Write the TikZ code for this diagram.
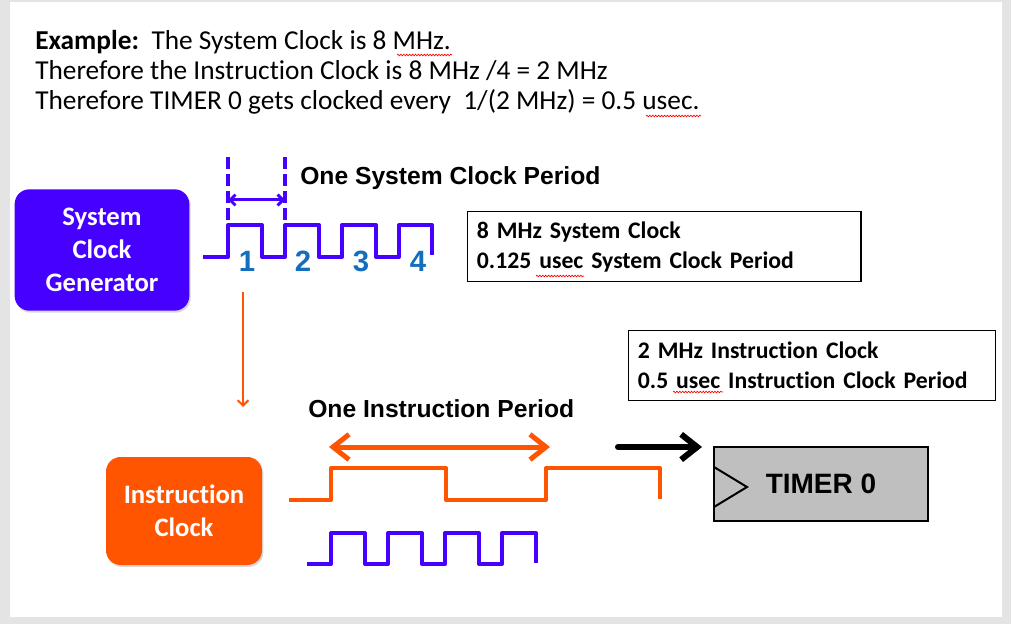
\documentclass[tikz,border=0pt]{standalone}
\usepackage{fontspec}
\setmainfont{Carlito}[Ligatures=NoCommon]
\newfontfamily\arialfont{Liberation Sans}
\usetikzlibrary{arrows.meta, positioning, shadows, decorations.pathmorphing}
\definecolor{sysviolet}{RGB}{70,0,255}
\definecolor{instorange}{RGB}{255,85,0}
\definecolor{countblue}{RGB}{20,110,190}
\definecolor{timergray}{RGB}{191,191,191}
\definecolor{framegray}{RGB}{228,228,228}
\tikzset{
  clkbox/.style   = {rounded corners=11pt, text=white, align=center,
                     font=\bfseries\fontsize{20}{24.75}\selectfont,
                     drop shadow={opacity=0.3, shadow xshift=1pt, shadow yshift=-1.5pt}},
  infobox/.style  = {draw=black, line width=0.9pt, anchor=north west, align=left,
                     font=\bfseries\fontsize{17.8}{22.5}\selectfont, inner xsep=7pt},
  headline/.style = {anchor=base west, inner sep=0pt, font=\fontsize{20.5}{24}\selectfont},
  lbl/.style      = {anchor=base west, inner sep=0pt,
                     font=\arialfont\bfseries\fontsize{18.5}{20}\selectfont},
  digit/.style    = {inner sep=0pt, text=countblue,
                     font=\arialfont\bfseries\fontsize{22}{24}\selectfont},
  wave/.style     = {line width=3pt, line join=round},
  bigarrow/.style = {line width=3.75pt, line cap=round,
                     arrows={-Straight Barb[length=12pt, width=19pt]}},
  squiggle/.style = {red, line width=0.5pt, decorate,
                     decoration={snake, segment length=2.2pt, amplitude=0.6pt}},
}
\begin{document}
\begin{tikzpicture}[x=0.75pt, y=-0.75pt]
  \useasboundingbox (0,0) rectangle (1011,624);
  % slide frame
  \fill[framegray] (0,0) rectangle (1011,624);
  \fill[white] (10,2) rectangle (1002,617);

  % header text
  \node[headline] (head1) at (35,50) {\textbf{Example:}\ \ The System Clock is 8 MHz.};
  \node[headline] (head2) at (35,80) {Therefore the Instruction Clock is 8 MHz /4 = 2 MHz};
  \node[headline] (head3) at (35,110) {Therefore TIMER 0 gets clocked every\ \ 1/(2 MHz) = 0.5 usec.};
  \draw[squiggle] (397,55) -- (452,55);
  \draw[squiggle] (646,116) -- (701,116);

  % clock sources
  \node[clkbox, fill=sysviolet, minimum width=131pt, minimum height=91pt] (sysgen) at (102,250)
    {System\\Clock\\Generator};
  \node[clkbox, fill=instorange, minimum width=117pt, minimum height=81pt] (instclk) at (184,511)
    {Instruction\\Clock};

  % system clock waveform
  \draw[wave, sysviolet] (203,257) -- (228,257)
    \foreach \k in {1,2,3} { -- ++(0,-32) -- ++(34,0) -- ++(0,32) -- ++(23,0) }
    -- ++(0,-32) -- ++(33,0) -- ++(0,30);
  \foreach \n/\x in {1/247, 2/303, 3/361, 4/418}
    \node[digit] (d\n) at (\x,261) {\n};

  % one system clock period
  \coordinate (tickA) at (228,157);
  \coordinate (tickB) at (285,157);
  \draw[sysviolet, line width=3pt, dash pattern=on 9pt off 3.75pt] (tickA) -- ++(0,68);
  \draw[sysviolet, line width=3pt, dash pattern=on 9pt off 3.75pt] (tickB) -- ++(0,68);
  \coordinate (perA) at (228,200);
  \coordinate (perB) at (285,200);
  \draw[sysviolet, line width=2.25pt, arrows={Straight Barb[length=4pt, width=8pt]-Straight Barb[length=4pt, width=8pt]}]
    (perA) -- (perB);
  \node[lbl] (syslbl) at (300,185) {One System Clock Period};

  % info boxes
  \node[infobox, text width=281pt, minimum height=52.5pt] (sysinfo) at (467,211)
    {8 MHz System Clock\\0.125 usec System Clock Period};
  \node[infobox, text width=261pt, minimum height=52.5pt] (instinfo) at (628,330)
    {2 MHz Instruction Clock\\0.5 usec Instruction Clock Period};
  \draw[squiggle] (536,276) -- (584,276);
  \draw[squiggle] (673,392) -- (723,392);

  % divide down
  \coordinate (divtop) at (243,292);
  \coordinate (divbot) at (243,407);
  \draw[instorange, line width=1.5pt, arrows={-Straight Barb[length=4pt, width=8pt]}] (divtop) -- (divbot);

  % instruction clock waveform
  \node[lbl] (instlbl) at (308,417) {One Instruction Period};
  \coordinate (instA) at (329,447);
  \coordinate (instB) at (550,447);
  \draw[bigarrow, instorange, arrows={Straight Barb[length=12pt, width=19pt]-Straight Barb[length=12pt, width=19pt]}]
    (instA) -- (instB);
  \draw[wave, instorange] (289,500) -- (331,500) -- (331,468) -- (446,468) -- (446,500)
    -- (546,500) -- (546,468) -- (660,468) -- (660,499);
  \draw[wave, sysviolet] (307,564) -- (331,564)
    \foreach \k in {1,2,3} { -- ++(0,-31) -- ++(34,0) -- ++(0,31) -- ++(23,0) }
    -- ++(0,-31) -- ++(34,0) -- ++(0,30);

  % timer
  \node[draw=black, line width=1.2pt, fill=timergray, minimum width=160.5pt, minimum height=55.5pt,
        font=\arialfont\bfseries\fontsize{21}{24}\selectfont] (timer) at (821,484) {TIMER 0};
  \draw[line width=1.5pt, line join=miter] (714,467) -- (747,487) -- (714,507);
  \coordinate (clkin) at (618,447);
  \coordinate (clkend) at (702,447);
  \draw[bigarrow, black, line width=4.5pt] (clkin) -- (clkend);
\end{tikzpicture}
\end{document}
